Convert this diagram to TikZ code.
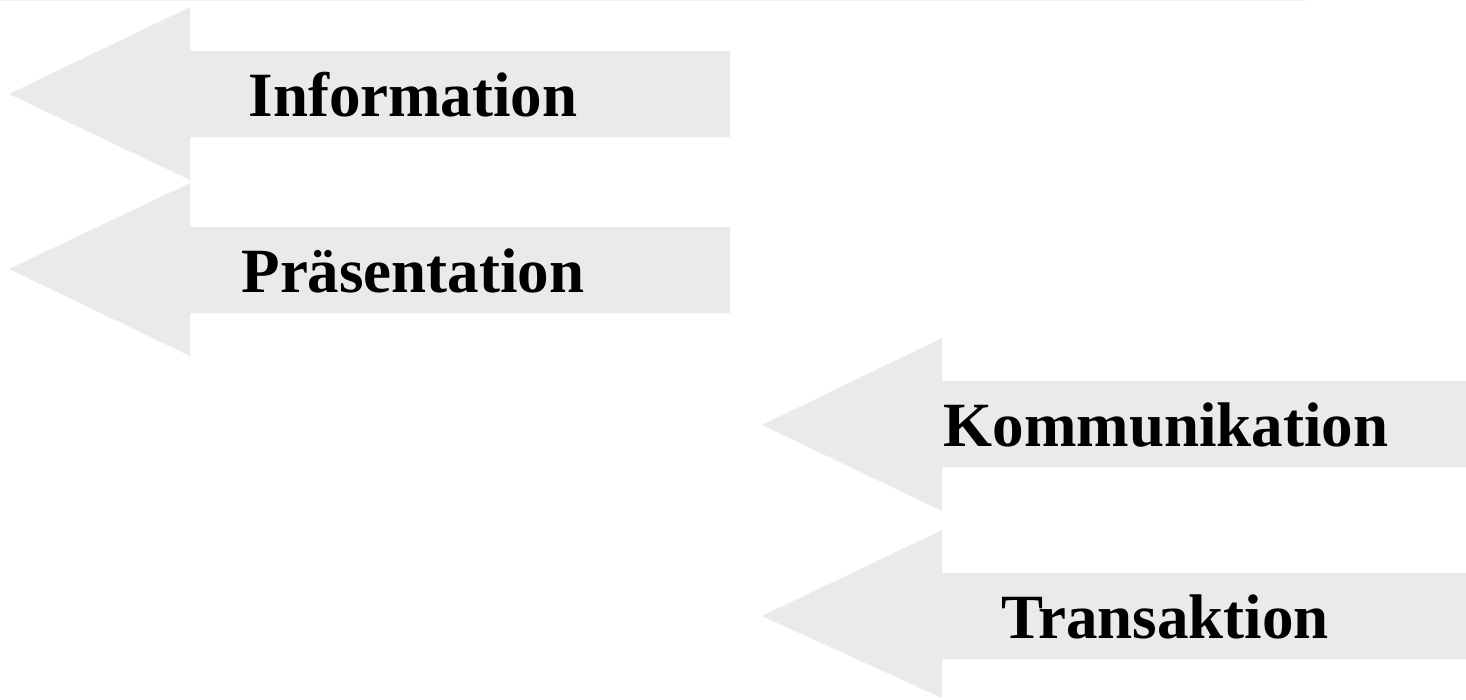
\documentclass[tikz,border=0pt]{standalone}
\usepackage{fontspec}
\setmainfont{Liberation Serif}
\definecolor{arrowgray}{RGB}{234,234,234}
\definecolor{rulegray}{RGB}{242,242,242}
\tikzset{
  bigarrow/.style={fill=arrowgray, draw=none},
  arrowlabel/.style={anchor=base, inner sep=0pt, font=\bfseries\fontsize{63}{70}\selectfont}
}
\begin{document}
\begin{tikzpicture}[x=1pt, y=-1pt]

    % Page size as in the reference (pixel units, y down)
    \useasboundingbox (0,0) rectangle (1466,699);

    % Faint rule along the top edge
    \draw[rulegray, line width=2pt] (0,0) -- (1306,0);

    % Left column of arrows
    \fill[bigarrow] (9,94) -- (190,7) -- (190,51) -- (730,51) --
        (730,137) -- (190,137) -- (190,180) -- cycle;
    \fill[bigarrow] (9,269) -- (190,183) -- (190,227) -- (730,227) --
        (730,313) -- (190,313) -- (190,356) -- cycle;

    % Right column of arrows
    \fill[bigarrow] (762,425) -- (942,338) -- (942,381) -- (1466,381) --
        (1466,467) -- (942,467) -- (942,511) -- cycle;
    \fill[bigarrow] (762,616) -- (942,530) -- (942,573) -- (1466,573) --
        (1466,659) -- (942,659) -- (942,698) -- cycle;

    % Labels
    \node[arrowlabel] (info) at (413,116) {Information};
    \node[arrowlabel] (praes) at (413,292) {Präsentation};
    \node[arrowlabel] (komm) at (1166,446) {Kommunikation};
    \node[arrowlabel] (trans) at (1165,638) {Transaktion};

\end{tikzpicture}
\end{document}
